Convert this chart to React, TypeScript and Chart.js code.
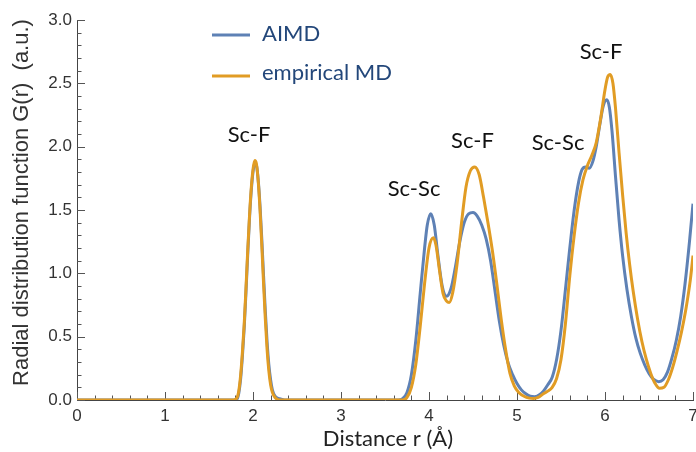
import React, { useEffect, useRef } from "react";
import { Chart, registerables } from "chart.js";

Chart.register(...registerables);

// ---- data ----
const rAimd = [
  0, 1.78, 1.82, 1.84, 1.86, 1.88, 1.9, 1.92, 1.94, 1.96, 1.98, 2.0, 2.02, 2.04, 2.06, 2.08, 2.1, 2.12, 2.14, 2.16,
  2.18, 2.2, 2.22, 2.25, 2.3, 2.36, 3.65, 3.7, 3.75, 3.8, 3.85, 3.9, 3.95, 3.98, 4.02, 4.06, 4.1, 4.15, 4.2, 4.25,
  4.3, 4.35, 4.4, 4.45, 4.5, 4.55, 4.6, 4.65, 4.7, 4.75, 4.8, 4.85, 4.9, 4.95, 5.0, 5.05, 5.1, 5.15, 5.2, 5.25,
  5.3, 5.35, 5.4, 5.45, 5.5, 5.55, 5.6, 5.65, 5.7, 5.74, 5.78, 5.82, 5.86, 5.9, 5.94, 5.98, 6.02, 6.05, 6.08, 6.12,
  6.16, 6.2, 6.25, 6.3, 6.35, 6.4, 6.45, 6.5, 6.55, 6.61, 6.66, 6.71, 6.76, 6.81, 6.86, 6.91, 6.96, 7.0,
];
const gAimd = [
  0, 0, 0.01, 0.06, 0.17, 0.35, 0.57, 0.85, 1.15, 1.43, 1.65, 1.8, 1.87, 1.85, 1.73, 1.53, 1.27, 0.98, 0.7, 0.46,
  0.28, 0.16, 0.08, 0.03, 0.01, 0, 0, 0.01, 0.06, 0.2, 0.47, 0.84, 1.2, 1.38, 1.47, 1.38, 1.15, 0.9, 0.82, 0.88,
  1.05, 1.25, 1.4, 1.47, 1.48, 1.45, 1.38, 1.27, 1.1, 0.86, 0.62, 0.43, 0.29, 0.2, 0.13, 0.08, 0.05, 0.03, 0.026, 0.04,
  0.07, 0.12, 0.18, 0.32, 0.55, 0.87, 1.2, 1.5, 1.72, 1.82, 1.84, 1.83, 1.88, 2.0, 2.17, 2.32, 2.37, 2.31, 2.12, 1.76,
  1.42, 1.14, 0.87, 0.66, 0.49, 0.37, 0.28, 0.21, 0.165, 0.145, 0.16, 0.22, 0.33, 0.47, 0.66, 0.92, 1.25, 1.55,
];
const rEmp = [
  0, 1.78, 1.82, 1.84, 1.86, 1.88, 1.9, 1.92, 1.94, 1.96, 1.98, 2.0, 2.02, 2.04, 2.06, 2.08, 2.1, 2.12, 2.14, 2.16,
  2.18, 2.2, 2.22, 2.25, 2.3, 3.7, 3.75, 3.8, 3.85, 3.9, 3.95, 4.0, 4.05, 4.08, 4.12, 4.16, 4.2, 4.23, 4.27, 4.32,
  4.37, 4.42, 4.47, 4.52, 4.57, 4.62, 4.67, 4.72, 4.77, 4.82, 4.87, 4.92, 4.97, 5.02, 5.08, 5.14, 5.19, 5.24, 5.3, 5.35,
  5.4, 5.45, 5.5, 5.55, 5.6, 5.65, 5.7, 5.75, 5.8, 5.85, 5.9, 5.95, 6.0, 6.03, 6.06, 6.09, 6.12, 6.16, 6.2, 6.24,
  6.28, 6.32, 6.37, 6.42, 6.47, 6.52, 6.57, 6.62, 6.67, 6.72, 6.77, 6.82, 6.87, 6.92, 6.97, 7.0,
];
const gEmp = [
  0, 0, 0.02, 0.08, 0.2, 0.38, 0.6, 0.88, 1.18, 1.45, 1.67, 1.82, 1.89, 1.86, 1.72, 1.5, 1.22, 0.92, 0.64, 0.4,
  0.23, 0.12, 0.06, 0.02, 0, 0, 0.02, 0.1, 0.28, 0.58, 0.92, 1.2, 1.28, 1.22, 1.02, 0.84, 0.78, 0.77, 0.85, 1.08,
  1.4, 1.68, 1.81, 1.84, 1.78, 1.6, 1.4, 1.18, 0.92, 0.64, 0.4, 0.21, 0.11, 0.06, 0.03, 0.015, 0.012, 0.02, 0.05, 0.07,
  0.1, 0.17, 0.32, 0.6, 0.98, 1.3, 1.56, 1.74, 1.85, 1.93, 2.03, 2.22, 2.45, 2.55, 2.57, 2.5, 2.3, 1.95, 1.62, 1.32,
  1.07, 0.86, 0.64, 0.46, 0.32, 0.21, 0.13, 0.092, 0.1, 0.16, 0.26, 0.39, 0.54, 0.72, 0.95, 1.14,
];

const seriesNames = ["AIMD", "empirical MD"];
const peakLabels = ["Sc-F", "Sc-Sc", "Sc-F", "Sc-Sc", "Sc-F"];
const peakLabelR = [1.955, 3.83, 4.494, 5.466, 5.955];
const peakLabelG = [2.037, 1.61, 1.99, 1.974, 2.692];

const xTitle = "Distance r (Å)";
const yTitle = "Radial distribution function G(r)  (a.u.)";

const BLUE = "#5e81b5";
const ORANGE = "#e19c24";

const decorPlugin = {
  id: "decor",
  beforeDatasetsDraw(chart: any) {
    const { ctx, chartArea, scales } = chart;
    const xs = scales.x;
    const ys = scales.y;
    ctx.save();
    ctx.strokeStyle = "#555";
    ctx.lineWidth = 1;
    ctx.beginPath();
    for (let i = 0; i <= 35; i++) {
      const px = Math.round(xs.getPixelForValue(i / 5)) + 0.5;
      const len = i % 5 === 0 ? 8 : 4.5;
      ctx.moveTo(px, chartArea.bottom);
      ctx.lineTo(px, chartArea.bottom - len);
    }
    for (let i = 0; i <= 30; i++) {
      const py = Math.round(ys.getPixelForValue(i / 10)) + 0.5;
      const len = i % 5 === 0 ? 8 : 4.5;
      ctx.moveTo(chartArea.left, py);
      ctx.lineTo(chartArea.left + len, py);
    }
    ctx.stroke();
    ctx.restore();
  },
  afterDraw(chart: any) {
    const { ctx, scales } = chart;
    const xs = scales.x;
    const ys = scales.y;
    ctx.save();
    // peak annotations
    ctx.fillStyle = "#111";
    ctx.font = "22px Lato";
    ctx.textAlign = "center";
    ctx.textBaseline = "alphabetic";
    peakLabels.forEach((t, i) => {
      ctx.fillText(t, xs.getPixelForValue(peakLabelR[i]), ys.getPixelForValue(peakLabelG[i]));
    });
    // legend
    const colors = [BLUE, ORANGE];
    const rowsY = [35, 76];
    const baseY = [41, 80];
    ctx.textAlign = "left";
    ctx.fillStyle = "#23477a";
    seriesNames.forEach((n, i) => {
      ctx.strokeStyle = colors[i];
      ctx.lineWidth = 3;
      ctx.beginPath();
      ctx.moveTo(212, rowsY[i]);
      ctx.lineTo(250, rowsY[i]);
      ctx.stroke();
      ctx.fillText(n, 262, baseY[i]);
    });
    // axis titles
    ctx.fillStyle = "#222";
    ctx.textAlign = "center";
    ctx.font = "22px Lato";
    ctx.fillText(xTitle, 388, 446);
    ctx.translate(22, 202.5);
    ctx.rotate(-Math.PI / 2);
    ctx.textBaseline = "middle";
    ctx.font = '22px "Liberation Sans", Arial';
    ctx.fillStyle = "#333";
    ctx.fillText(yTitle, 0, 0);
    ctx.restore();
  },
};

export default function App() {
  const ref = useRef<HTMLCanvasElement | null>(null);
  useEffect(() => {
    document.body.style.margin = "0";
    const canvas = ref.current;
    if (!canvas) return;
    const tickFont = { family: '"Liberation Sans", Arial', size: 17 };
    const chart = new Chart(canvas, {
      type: "line",
      data: {
        datasets: [
          {
            label: seriesNames[1],
            data: rEmp.map((r, i) => ({ x: r, y: gEmp[i] })),
            borderColor: ORANGE,
            borderWidth: 3,
            pointRadius: 0,
            cubicInterpolationMode: "monotone",
            order: 0,
          },
          {
            label: seriesNames[0],
            data: rAimd.map((r, i) => ({ x: r, y: gAimd[i] })),
            borderColor: BLUE,
            borderWidth: 3,
            pointRadius: 0,
            cubicInterpolationMode: "monotone",
            order: 1,
          },
        ],
      },
      options: {
        responsive: false,
        maintainAspectRatio: false,
        animation: false,
        devicePixelRatio: 1,
        layout: { padding: { left: 0, right: 17, top: 20, bottom: 0 } },
        plugins: { legend: { display: false }, tooltip: { enabled: false } },
        scales: {
          x: {
            type: "linear",
            min: 0,
            max: 7,
            afterFit: (s: any) => {
              s.height = 52;
            },
            ticks: { stepSize: 1, font: tickFont, color: "#333", padding: 6, maxRotation: 0, autoSkip: false },
            grid: { display: true, drawOnChartArea: false, drawTicks: false },
            border: { display: true, color: "#444", width: 1 },
          },
          y: {
            type: "linear",
            min: 0,
            max: 3,
            afterFit: (s: any) => {
              s.width = 77;
            },
            ticks: {
              stepSize: 0.5,
              font: tickFont,
              color: "#333",
              padding: 5,
              callback: (v: any) => Number(v).toFixed(1),
            },
            grid: { display: true, drawOnChartArea: false, drawTicks: false },
            border: { display: true, color: "#444", width: 1 },
          },
        },
      } as any,
      plugins: [decorPlugin],
    });
    return () => chart.destroy();
  }, []);
  return (
    <div style={{ width: 696, height: 452, overflow: "hidden", position: "relative" }}>
      <canvas ref={ref} width={710} height={452} style={{ display: "block" }} />
    </div>
  );
}
